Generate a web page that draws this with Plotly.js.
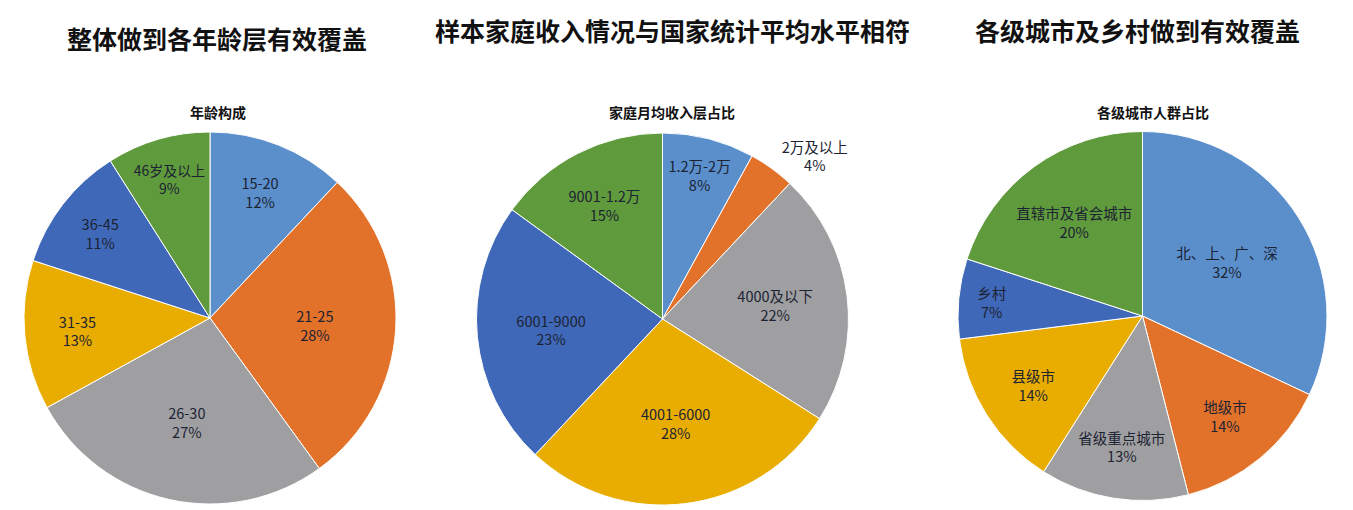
<!DOCTYPE html>
<html>
<head>
<meta charset="utf-8">
<script src="https://cdn.plot.ly/plotly-3.0.1.min.js"></script>
<style>html,body{margin:0;padding:0;background:#fff;}#chart{width:1353px;height:510px;}</style>
</head>
<body>
<div id="chart"></div>
<script>
// Data
var mainTitles = ['整体做到各年龄层有效覆盖', '样本家庭收入情况与国家统计平均水平相符', '各级城市及乡村做到有效覆盖'];
var subTitles = ['年龄构成', '家庭月均收入层占比', '各级城市人群占比'];

var ageLabels = ['15-20', '21-25', '26-30', '31-35', '36-45', '46岁及以上'];
var ageValues = [12, 28, 27, 13, 11, 9];

var incomeLabels = ['1.2万-2万', '2万及以上', '4000及以下', '4001-6000', '6001-9000', '9001-1.2万'];
var incomeValues = [8, 4, 22, 28, 23, 15];

var cityLabels = ['北、上、广、深', '地级市', '省级重点城市', '县级市', '乡村', '直辖市及省会城市'];
var cityValues = [32, 14, 13, 14, 7, 20];

var palette = ['#5a8fcc', '#e2712a', '#9f9fa1', '#e8ad00', '#3f68b8', '#5f9a3c'];

var W = 1353, H = 510;
function dom(cx, cy, r) {
  return {x: [(cx - r) / W, (cx + r) / W], y: [(H - cy - r) / H, (H - cy + r) / H]};
}
var domains = [dom(210, 318, 186), dom(662.5, 319, 186), dom(1142.5, 316, 184.5)];

function pie(labels, values, d, positions) {
  return {
    type: 'pie', labels: labels, values: values, sort: false, direction: 'clockwise',
    domain: d, hole: 0,
    marker: {colors: palette, line: {color: '#ffffff', width: 1}},
    texttemplate: '%{label}<br>%{value}%',
    textposition: positions || 'inside',
    insidetextorientation: 'horizontal',
    textfont: {family: 'Noto Sans CJK SC, sans-serif', size: 14.5, color: '#1c2333'},
    outsidetextfont: {family: 'Noto Sans CJK SC, sans-serif', size: 14.5, color: '#1c2333'},
    hoverinfo: 'label+value', showlegend: false
  };
}

var data = [
  pie(ageLabels, ageValues, domains[0]),
  pie(incomeLabels, incomeValues, domains[1], ['inside', 'outside', 'inside', 'inside', 'inside', 'inside']),
  pie(cityLabels, cityValues, domains[2])
];

var titleX = [217, 672, 1137];
var subX = [218, 672, 1153];
var annotations = [];
for (var i = 0; i < 3; i++) {
  annotations.push({text: '<b>' + mainTitles[i] + '</b>', x: titleX[i] / W, y: 1 - (i === 0 ? 38 : 30) / H,
    xref: 'paper', yref: 'paper', xanchor: 'center', yanchor: 'middle', showarrow: false,
    font: {family: 'Noto Sans CJK SC, sans-serif', size: 25, color: '#111111'}});
  annotations.push({text: '<b>' + subTitles[i] + '</b>', x: subX[i] / W, y: 1 - 112 / H,
    xref: 'paper', yref: 'paper', xanchor: 'center', yanchor: 'middle', showarrow: false,
    font: {family: 'Noto Sans CJK SC, sans-serif', size: 14, color: '#111111'}});
}

var layout = {
  width: W, height: H, margin: {l: 0, r: 0, t: 0, b: 0},
  paper_bgcolor: '#ffffff', plot_bgcolor: '#ffffff',
  annotations: annotations, showlegend: false
};

Plotly.newPlot('chart', data, layout, {displayModeBar: false, staticPlot: true});
</script>
</body>
</html>
